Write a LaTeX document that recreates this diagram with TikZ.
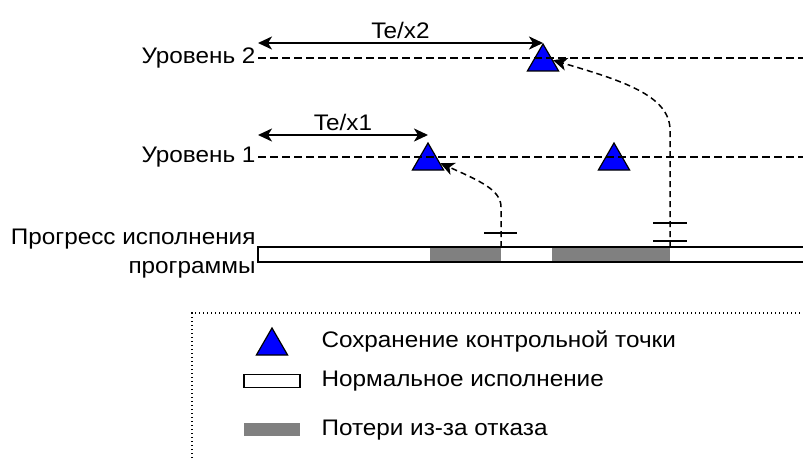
\documentclass[tikz,border=0pt]{standalone}
\usepackage{fontspec}
\setmainfont[FakeStretch=1.08]{Liberation Sans}
\usetikzlibrary{arrows.meta,shapes.geometric}

\begin{document}
\begin{tikzpicture}[x=1pt,y=-1pt,font=\fontsize{22.5}{29}\selectfont,
    >={Stealth[length=14pt,width=13pt,inset=4pt]},
    level/.style={line width=1.5pt,dash pattern=on 8pt off 4pt},
    span/.style={line width=2.2pt,<->},
    back/.style={line width=1.5pt,dash pattern=on 6pt off 4pt,->},
    ckpt/.style={regular polygon,regular polygon sides=3,minimum size=36pt,inner sep=0pt,draw,line width=1.2pt,fill=blue},
    tick/.style={line width=1.5pt}]
    \useasboundingbox (0,0) rectangle (803,460);
    \node[anchor=east] (u2) at (259,58) {Уровень 2};
    \node[anchor=east] (u1) at (259,157) {Уровень 1};
    \node[anchor=east,align=right] (prog) at (259,254) {Прогресс исполнения\\программы};
    \node[ckpt] (c21) at (543,62) {};
    \node[ckpt] (c11) at (428,161) {};
    \node[ckpt] (c12) at (614,161) {};
    \draw[level] (258,58) -- (803,58);
    \draw[level] (258,157) -- (803,157);
    \coordinate (s2) at (258,43);
    \coordinate (s1) at (258,135);
    \draw[span] (s2) -- node[above]{Te/x2} (s2 -| c21.north);
    \draw[span] (s1) -- node[above]{Te/x1} (s1 -| c11.north);
    \fill[gray] (430,247) rectangle (501,262);
    \fill[gray] (552,247) rectangle (670,262);
    \draw[line width=1.5pt] (803,247) -- (258,247) -- (258,262) -- (803,262);
    \coordinate (f1) at (501,247);
    \coordinate (f2) at (670,247);
    \draw[back] (f1) -- (501,207) .. controls (501,190) and (480,181) .. (c11.-10);
    \draw[back] (f2) -- (670,130) .. controls (670,95) and (620,80) .. (c21.10);
    \draw[tick] (484,233) -- (517,233);
    \draw[tick] (653,223) -- (687,223);
    \draw[tick] (653,241) -- (687,241);
    \draw[line width=1.4pt,dash pattern=on 1.4pt off 2.6pt] (192,470) -- (192,313) -- (810,313);
    \node[ckpt] (lk) at (272,346) {};
    \node[draw,line width=1.5pt,minimum width=56pt,minimum height=13pt] (ln) at (272,381) {};
    \node[fill=gray,minimum width=56pt,minimum height=13pt] (lp) at (272,429) {};
    \node[anchor=west] (lkt) at (318,341) {Сохранение контрольной точки};
    \node[anchor=west] (lnt) at (318,381) {Нормальное исполнение};
    \node[anchor=west] (lpt) at (318,430) {Потери из-за отказа};
  \end{tikzpicture}
\end{document}
